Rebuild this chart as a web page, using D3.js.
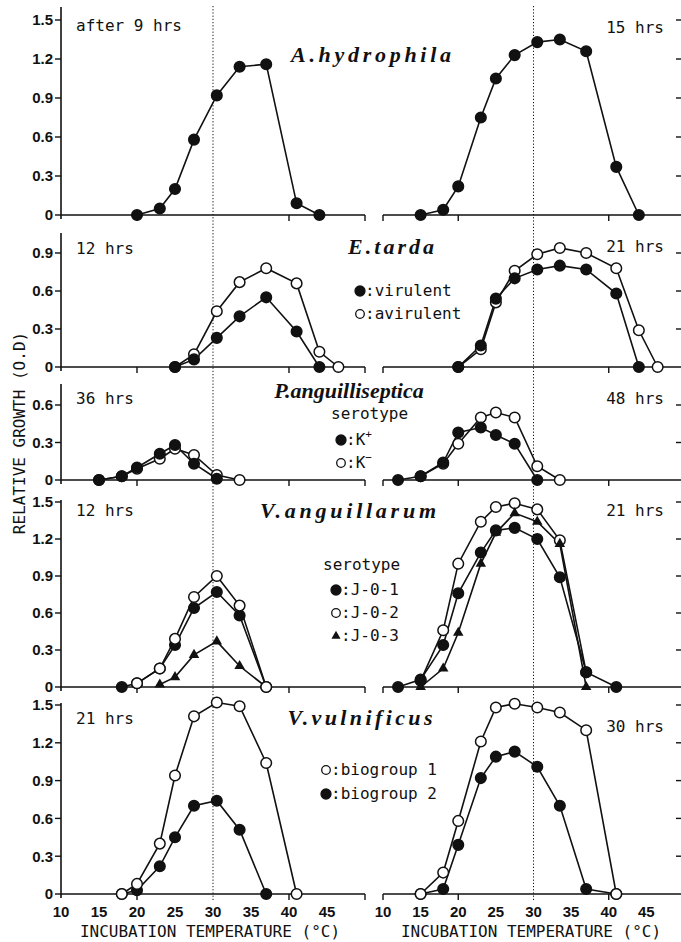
<!DOCTYPE html>
<html>
<head>
<meta charset="utf-8">
<script src="https://cdn.jsdelivr.net/npm/d3@7"></script>
<style>
  body { margin: 0; background: #fff; }
  svg { display: block; }
  .mono { font-family: "DejaVu Sans Mono", monospace; font-size: 16px; }
  .tick { font-family: "Liberation Sans", Arial, sans-serif; font-weight: bold; font-size: 15px; }
  .species { font-family: "Liberation Serif", "Times New Roman", serif; font-weight: bold; font-style: italic; font-size: 22px; }
</style>
</head>
<body>
<div id="chart"></div>
<script>
// temperatures (°C) used in each series
var t9 = [20, 23, 25, 27.5, 30.5, 33.5, 37, 41, 44];
var t15 = [15, 18, 20, 23, 25, 27.5, 30.5, 33.5, 37, 41, 44];
var tEl = [25, 27.5, 30.5, 33.5, 37, 41, 44, 46.5];
var tEr = [20, 23, 25, 27.5, 30.5, 33.5, 37, 41, 44, 46.5];
var tPl = [15, 18, 20, 23, 25, 27.5, 30.5, 33.5];
var tPr = [12, 15, 18, 20, 23, 25, 27.5, 30.5, 33.5];
var tVal = [18, 20, 23, 25, 27.5, 30.5, 33.5, 37];
var tVar = [12, 15, 18, 20, 23, 25, 27.5, 30.5, 33.5, 37, 41];
var tVv = [15, 18, 20, 23, 25, 27.5, 30.5, 33.5, 37, 41];
var tVvl = [18, 20, 23, 25, 27.5, 30.5, 33.5, 37, 41];

// A. hydrophila
var hydro9h = [0, 0.05, 0.2, 0.58, 0.92, 1.14, 1.16, 0.09, 0];
var hydro15h = [0, 0.04, 0.22, 0.75, 1.05, 1.23, 1.33, 1.35, 1.26, 0.37, 0];
// E. tarda (virulent / avirulent)
var tardaVir12 = [0, 0.06, 0.23, 0.40, 0.55, 0.28, 0, null];
var tardaAvir12 = [0, 0.10, 0.44, 0.67, 0.78, 0.66, 0.12, 0];
var tardaVir21 = [0, 0.17, 0.54, 0.70, 0.77, 0.80, 0.77, 0.58, 0, null];
var tardaAvir21 = [0, 0.14, 0.51, 0.76, 0.89, 0.94, 0.90, 0.78, 0.29, 0];
// P. anguilliseptica (K+ / K-)
var pKp36 = [0, 0.03, 0.10, 0.21, 0.28, 0.13, 0.01, null];
var pKm36 = [0, 0.03, 0.09, 0.17, 0.25, 0.20, 0.04, 0];
var pKp48 = [0, 0.03, 0.14, 0.38, 0.42, 0.36, 0.29, 0, null];
var pKm48 = [null, 0.03, 0.13, 0.29, 0.50, 0.54, 0.50, 0.11, 0];
// V. anguillarum (J-0-1 / J-0-2 / J-0-3)
var vaJ1_12 = [0, 0.03, 0.15, 0.34, 0.64, 0.77, 0.58, 0];
var vaJ2_12 = [null, 0.03, 0.15, 0.39, 0.73, 0.90, 0.66, 0];
var vaJ3_12 = [null, null, 0.02, 0.08, 0.26, 0.37, 0.17, 0];
var vaJ1_21 = [0, 0.06, 0.34, 0.76, 1.09, 1.27, 1.29, 1.20, 0.89, 0.12, 0];
var vaJ2_21 = [null, 0.05, 0.46, 1.00, 1.34, 1.46, 1.49, 1.44, 1.19, 0.12, null];
var vaJ3_21 = [null, 0, 0.15, 0.44, 1.00, 1.25, 1.41, 1.34, 1.16, 0, null];
// V. vulnificus (biogroup 1 / biogroup 2)
var vvB1_21 = [0, 0.08, 0.40, 0.94, 1.41, 1.52, 1.49, 1.04, 0];
var vvB2_21 = [0, 0.03, 0.22, 0.45, 0.70, 0.74, 0.51, 0, null];
var vvB1_30 = [0, 0.17, 0.58, 1.21, 1.48, 1.51, 1.48, 1.44, 1.30, 0];
var vvB2_30 = [0, 0.04, 0.39, 0.92, 1.09, 1.13, 1.01, 0.70, 0.04, 0];

var xTicks = [10, 15, 20, 25, 30, 35, 40, 45];

var W = 681, H = 942;
var svg = d3.select('#chart').append('svg').attr('width', W).attr('height', H);

var xLeft = d3.scaleLinear().domain([10, 50]).range([61, 365]);
var xRight = d3.scaleLinear().domain([10, 50]).range([383, 684]);

// one row per organism; base = pixel of 0, pxMax = pixel of the highest tick
var rows = [
  { base: 215, pxMax: 20, top: 7, yTicks: [0, 0.3, 0.6, 0.9, 1.2, 1.5], name: 'A.hydrophila', nameX: 371, nameY: 62, nameW: 160, nameS: 22,
    hrsL: 'after 9 hrs', hrsLy: 31, hrsR: '15 hrs', hrsRy: 33,
    left: [{ t: t9, v: hydro9h, m: 'filled' }],
    right: [{ t: t15, v: hydro15h, m: 'filled' }] },
  { base: 367, pxMax: 253, top: 233, yTicks: [0, 0.3, 0.6, 0.9], name: 'E.tarda', nameX: 391, nameY: 254, nameW: 86, nameS: 22,
    hrsL: '12 hrs', hrsLy: 254, hrsR: '21 hrs', hrsRy: 252,
    left: [{ t: tEl, v: tardaAvir12, m: 'open' }, { t: tEl, v: tardaVir12, m: 'filled' }],
    right: [{ t: tEr, v: tardaAvir21, m: 'open' }, { t: tEr, v: tardaVir21, m: 'filled' }] },
  { base: 480, pxMax: 405, top: 384, yTicks: [0, 0.3, 0.6], name: 'P.anguilliseptica', nameX: 349, nameY: 398, nameW: null, nameS: 20,
    hrsL: '36 hrs', hrsLy: 404, hrsR: '48 hrs', hrsRy: 404,
    left: [{ t: tPl, v: pKm36, m: 'open' }, { t: tPl, v: pKp36, m: 'filled' }],
    right: [{ t: tPr, v: pKm48, m: 'open' }, { t: tPr, v: pKp48, m: 'filled' }] },
  { base: 687, pxMax: 502, top: 500, yTicks: [0, 0.3, 0.6, 0.9, 1.2, 1.5], name: 'V.anguillarum', nameX: 348, nameY: 518, nameW: 176, nameS: 22,
    hrsL: '12 hrs', hrsLy: 516, hrsR: '21 hrs', hrsRy: 516,
    left: [{ t: tVal, v: vaJ3_12, m: 'tri' }, { t: tVal, v: vaJ1_12, m: 'filled' }, { t: tVal, v: vaJ2_12, m: 'open' }],
    right: [{ t: tVar, v: vaJ2_21, m: 'open' }, { t: tVar, v: vaJ3_21, m: 'tri' }, { t: tVar, v: vaJ1_21, m: 'filled' }] },
  { base: 894, pxMax: 705, top: 703, yTicks: [0, 0.3, 0.6, 0.9, 1.2, 1.5], name: 'V.vulnificus', nameX: 360, nameY: 725, nameW: 145, nameS: 22,
    hrsL: '21 hrs', hrsLy: 724, hrsR: '30 hrs', hrsRy: 732,
    left: [{ t: tVvl, v: vvB2_21, m: 'filled' }, { t: tVvl, v: vvB1_21, m: 'open' }],
    right: [{ t: tVv, v: vvB2_30, m: 'filled' }, { t: tVv, v: vvB1_30, m: 'open' }] }
];

var ink = '#111';
var tri = d3.symbol().type(d3.symbolTriangle).size(48);

function drawMarks(g, series, x, y) {
  var line = d3.line()
    .defined(function(d) { return d[1] != null; })
    .x(function(d) { return x(d[0]); })
    .y(function(d) { return y(d[1]); });
  series.forEach(function(s) {
    var pts = s.t.map(function(t, i) { return [t, s.v[i]]; });
    g.append('path').attr('d', line(pts)).attr('fill', 'none')
      .attr('stroke', ink).attr('stroke-width', 1.6);
  });
  series.forEach(function(s) {
    var pts = s.t.map(function(t, i) { return [t, s.v[i]]; }).filter(function(d) { return d[1] != null; });
    if (s.m == 'tri') {
      g.selectAll(null).data(pts).enter().append('path')
        .attr('d', tri)
        .attr('transform', function(d) { return 'translate(' + x(d[0]) + ',' + y(d[1]) + ')'; })
        .attr('fill', ink);
    } else {
      g.selectAll(null).data(pts).enter().append('circle')
        .attr('cx', function(d) { return x(d[0]); })
        .attr('cy', function(d) { return y(d[1]); })
        .attr('r', 5.3)
        .attr('fill', s.m == 'open' ? '#fff' : ink)
        .attr('stroke', ink).attr('stroke-width', 1.5);
    }
  });
}

// dotted 30 °C guides
[xLeft, xRight].forEach(function(x) {
  svg.append('line').attr('x1', x(30)).attr('x2', x(30)).attr('y1', 6).attr('y2', 900)
    .attr('stroke', ink).attr('stroke-width', 1).attr('stroke-dasharray', '1.2,2');
});

rows.forEach(function(r) {
  var y = d3.scaleLinear().domain([0, d3.max(r.yTicks)]).range([r.base, r.pxMax]);
  var g = svg.append('g');

  // left y axis
  g.append('line').attr('x1', 61).attr('x2', 61).attr('y1', r.top).attr('y2', r.base + 4)
    .attr('stroke', ink).attr('stroke-width', 1.6);
  r.yTicks.forEach(function(v) {
    g.append('line').attr('x1', 55).attr('x2', 61).attr('y1', y(v)).attr('y2', y(v))
      .attr('stroke', ink).attr('stroke-width', 1.4);
    g.append('text').attr('class', 'tick').attr('x', 53).attr('y', y(v)).attr('dy', '0.36em')
      .attr('text-anchor', 'end').attr('fill', ink).text(v == 0 ? '0' : d3.format('.1f')(v));
    if (v > 0) {
      g.append('line').attr('x1', 676).attr('x2', 681).attr('y1', y(v)).attr('y2', y(v))
        .attr('stroke', ink).attr('stroke-width', 1.4);
    }
  });

  // baselines with down ticks
  g.append('line').attr('x1', 61).attr('x2', 365).attr('y1', r.base).attr('y2', r.base)
    .attr('stroke', ink).attr('stroke-width', 1.6);
  g.append('line').attr('x1', 383).attr('x2', 681).attr('y1', r.base).attr('y2', r.base)
    .attr('stroke', ink).attr('stroke-width', 1.6);
  [xLeft(20), xLeft(40), 365, 383, xRight(20), xRight(40)].forEach(function(px) {
    g.append('line').attr('x1', px).attr('x2', px).attr('y1', r.base).attr('y2', r.base + 6)
      .attr('stroke', ink).attr('stroke-width', 1.4);
  });

  drawMarks(g, r.left, xLeft, y);
  drawMarks(g, r.right, xRight, y);

  var nm = g.append('text').attr('class', 'species').attr('x', r.nameX).attr('y', r.nameY)
    .attr('font-size', r.nameS)
    .attr('text-anchor', 'middle').attr('fill', ink).text(r.name);
  if (r.nameW) nm.attr('textLength', r.nameW).attr('lengthAdjust', 'spacing');
  g.append('text').attr('class', 'mono').attr('x', 76).attr('y', r.hrsLy).attr('fill', ink).text(r.hrsL);
  g.append('text').attr('class', 'mono').attr('x', 664).attr('y', r.hrsRy).attr('text-anchor', 'end')
    .attr('fill', ink).text(r.hrsR);
});

// bottom temperature axes
[xLeft, xRight].forEach(function(x, i) {
  xTicks.forEach(function(t) {
    svg.append('text').attr('class', 'tick').attr('x', x(t)).attr('y', 917)
      .attr('text-anchor', 'middle').attr('fill', ink).text(t);
  });
  svg.append('text').attr('class', 'mono').attr('x', i == 0 ? 210 : 531).attr('y', 937)
    .attr('text-anchor', 'middle').attr('fill', ink).text('INCUBATION TEMPERATURE (°C)');
});

// y axis title
svg.append('text').attr('class', 'mono')
  .attr('transform', 'translate(25,433) rotate(-90)')
  .attr('text-anchor', 'middle').attr('fill', ink).text('RELATIVE  GROWTH  (O.D)');

// legends
function legendItem(x, yy, mark, label, sup) {
  if (mark == 'tri') {
    svg.append('path').attr('d', d3.symbol().type(d3.symbolTriangle).size(36))
      .attr('transform', 'translate(' + x + ',' + (yy - 5) + ')').attr('fill', ink);
  } else {
    svg.append('circle').attr('cx', x).attr('cy', yy - 5).attr('r', mark == 'open' ? 4.3 : 5)
      .attr('fill', mark == 'open' ? '#fff' : ink).attr('stroke', ink).attr('stroke-width', 1.3);
  }
  var t = svg.append('text').attr('class', 'mono').attr('x', x + 5).attr('y', yy).attr('fill', ink).text(label);
  if (sup) {
    t.append('tspan').attr('dy', -7).attr('font-size', 11).text(sup);
  }
}
legendItem(360, 296, 'filled', ':virulent');
legendItem(360, 319, 'open', ':avirulent');

svg.append('text').attr('class', 'mono').attr('x', 331).attr('y', 419).attr('fill', ink).text('serotype');
legendItem(341, 445, 'filled', ':K', '+');
legendItem(341, 468, 'open', ':K', '−');

svg.append('text').attr('class', 'mono').attr('x', 323).attr('y', 570).attr('fill', ink).text('serotype');
legendItem(336, 595, 'filled', ':J-0-1');
legendItem(336, 618, 'open', ':J-0-2');
legendItem(336, 641, 'tri', ':J-0-3');

legendItem(326, 775, 'open', ':biogroup 1');
legendItem(326, 799, 'filled', ':biogroup 2');
</script>
</body>
</html>
